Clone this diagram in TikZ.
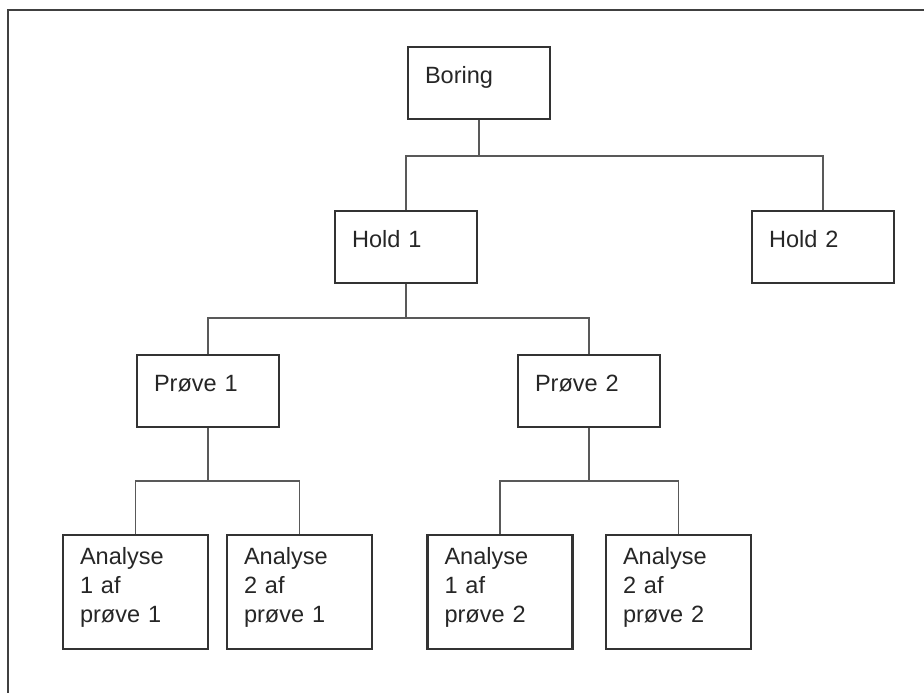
\documentclass[tikz,border=0pt]{standalone}
\usepackage{fontspec}
\setmainfont{Liberation Sans}

\begin{document}
\begin{tikzpicture}[
    x=0.02cm, y=-0.02cm,
    font=\fontsize{13.4pt}{16.5pt}\selectfont,
    box/.style = {draw=black!80, line width=1.2pt, text=black!85,
                  inner xsep=0.34cm, inner ysep=0pt, align=left},
    box_one/.style = {box, text width=2.16cm, text height=0.73cm, text depth=0.71cm},
    box_three/.style = {box, text width=2.22cm, text height=0.586cm, text depth=1.694cm},
    link/.style = {draw=black!65, line width=1.1pt},
    frame/.style = {draw=black!75, line width=1.2pt},
]

\useasboundingbox (0,0) rectangle (924,693);

% Ramme (kun top og venstre side)
\coordinate (frame_tl) at (8,10);
\draw[frame] (924,10) -- (frame_tl) -- (8,693);

% 1. Boring (top)
\node[box_one] (boring) at (479,83) {Boring};

% 2. Hold
\node[box_one] (hold1) at (406,247) {Hold 1};
\node[box_one] (hold2) at (823,247) {Hold 2};

% 3. Prøver
\node[box_one] (prove1) at (208,391) {Prøve 1};
\node[box_one] (prove2) at (589,391) {Prøve 2};

% 4. Analyser
\node[box_three] (ana11) at (135.5,592) {Analyse\\1 af\\prøve 1};
\node[box_three] (ana21) at (299.5,592) {Analyse\\2 af\\prøve 1};
\node[box_three] (ana12) at (500,592)   {Analyse\\1 af\\prøve 2};
\node[box_three] (ana22) at (678.5,592) {Analyse\\2 af\\prøve 2};

% Forgreninger
\coordinate (fork_boring) at (479,156);
\coordinate (fork_hold1)  at (406,318);
\coordinate (fork_prove1) at (208,481);
\coordinate (fork_prove2) at (589,481);

% Boring -> hold
\draw[link] (boring) -- (fork_boring);
\draw[link] (hold1) |- (fork_boring) -| (hold2);

% Hold 1 -> prøver
\draw[link] (hold1) -- (fork_hold1);
\draw[link] (prove1) |- (fork_hold1) -| (prove2);

% Prøve 1 -> analyser
\draw[link] (prove1) -- (fork_prove1);
\draw[link] (ana11) |- (fork_prove1) -| (ana21);

% Prøve 2 -> analyser
\draw[link] (prove2) -- (fork_prove2);
\draw[link] (ana12) |- (fork_prove2) -| (ana22);

\end{tikzpicture}
\end{document}
